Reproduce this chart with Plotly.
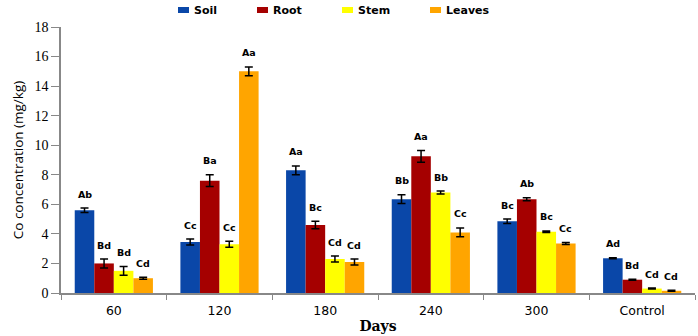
import plotly.graph_objects as go

days = ["60", "120", "180", "240", "300", "Control"]
series_names = ["Soil", "Root", "Stem", "Leaves"]
soil = [5.6, 3.45, 8.3, 6.35, 4.85, 2.35]
root = [2.0, 7.6, 4.6, 9.25, 6.35, 0.9]
stem = [1.5, 3.3, 2.3, 6.8, 4.15, 0.3]
leaves = [1.0, 15.0, 2.1, 4.1, 3.35, 0.15]
soil_err = [0.15, 0.2, 0.3, 0.3, 0.15, 0.03]
root_err = [0.3, 0.4, 0.25, 0.4, 0.1, 0.03]
stem_err = [0.3, 0.2, 0.2, 0.1, 0.05, 0.03]
leaves_err = [0.07, 0.3, 0.2, 0.3, 0.07, 0.03]
soil_lbl = ["Ab", "Cc", "Aa", "Bb", "Bc", "Ad"]
root_lbl = ["Bd", "Ba", "Bc", "Aa", "Ab", "Bd"]
stem_lbl = ["Bd", "Cc", "Cd", "Bb", "Bc", "Cd"]
leaves_lbl = ["Cd", "Aa", "Cd", "Cc", "Cc", "Cd"]

colors = ["#0A47A8", "#A50000", "#FFFF00", "#FFA500"]
values = [soil, root, stem, leaves]
errs = [soil_err, root_err, stem_err, leaves_err]
lbls = [soil_lbl, root_lbl, stem_lbl, leaves_lbl]

W, H = 698, 336
ML, MR, MT, MB = 61, 3, 27, 43
PW, PH = W - ML - MR, H - MT - MB

def px_x(p):
    return (p - ML) / PW

def px_y(p):
    return (H - MB - p) / PH

fig = go.Figure()
for name, v, e, c in zip(series_names, values, errs, colors):
    fig.add_trace(go.Bar(
        x=days, y=v, name=name, marker=dict(color=c, line=dict(width=0)),
        error_y=dict(type="data", array=e, color="black", thickness=1.5, width=4),
        offsetgroup=name, showlegend=False,
    ))

nser = len(series_names)
gap = 0.26
bw = (1 - gap) / nser
for si, (v, e, lb) in enumerate(zip(values, errs, lbls)):
    for ci in range(len(days)):
        xpos = ci - (1 - gap) / 2 + bw * (si + 0.5)
        fig.add_annotation(
            x=xpos, y=v[ci] + e[ci], xref="x", yref="y", text=lb[ci],
            showarrow=False, yshift=14, yanchor="middle",
            font=dict(family="DejaVu Sans", size=9.5, color="black", weight="bold"),
        )

# manual legend
leg_x = [178, 257, 342, 430]
for name, c, lx in zip(series_names, colors, leg_x):
    fig.add_shape(type="rect", xref="paper", yref="paper",
                  x0=px_x(lx), x1=px_x(lx + 11), y0=px_y(13), y1=px_y(7),
                  fillcolor=c, line=dict(width=0))
    fig.add_annotation(xref="paper", yref="paper", x=px_x(lx + 14), y=px_y(10),
                       xanchor="left", yanchor="middle", showarrow=False, text=name,
                       font=dict(family="DejaVu Sans", size=11, color="black", weight="bold"))

fig.update_layout(
    width=W, height=H,
    margin=dict(l=ML, r=MR, t=MT, b=MB),
    plot_bgcolor="white", paper_bgcolor="white",
    barmode="group", bargap=gap, bargroupgap=0,
    showlegend=False,
)
fig.update_xaxes(
    type="category", range=[-0.5, 5.5],
    showline=True, linecolor="#888888", linewidth=1.5,
    ticks="outside", ticklen=5, tickcolor="#888888", tickson="boundaries",
    ticklabelstandoff=5,
    tickfont=dict(family="DejaVu Sans", size=12.5, color="black"),
    title=dict(text="<b>Days</b>", font=dict(family="DejaVu Serif", size=14, color="black"), standoff=4),
    showgrid=False,
)
fig.update_yaxes(
    range=[0, 18], dtick=2,
    showline=True, linecolor="#888888", linewidth=1.5,
    ticks="outside", ticklen=8, tickcolor="#888888",
    tickfont=dict(family="Liberation Serif", size=14, color="black"),
    title=dict(text="Co concentration (mg/kg)", font=dict(family="Open Sans", size=13.5, color="black"), standoff=8),
    showgrid=False, zeroline=False,
)

fig.write_html("out.html")
